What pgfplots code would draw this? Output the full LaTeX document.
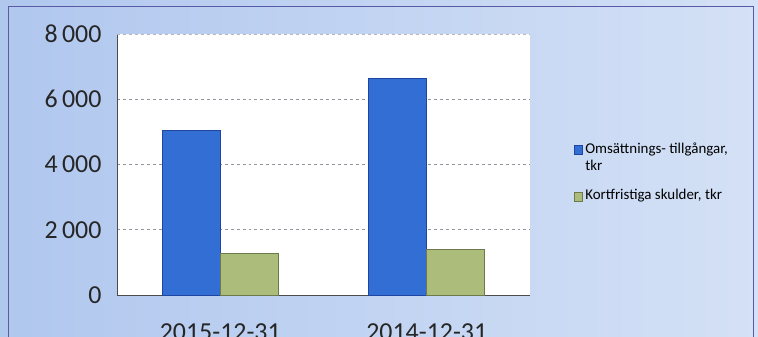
\documentclass[border=0pt]{standalone}
\usepackage{pgfplots}
\pgfplotsset{compat=1.18}
\usepackage{fontspec}
\setmainfont{Carlito}
\definecolor{bgA}{RGB}{176,199,238}
\definecolor{bgB}{RGB}{212,225,246}
\definecolor{barblue}{RGB}{50,110,212}
\definecolor{barblueD}{RGB}{30,70,160}
\definecolor{bargreen}{RGB}{172,188,122}
\definecolor{bargreenD}{RGB}{110,122,75}
\definecolor{gridc}{RGB}{150,150,160}
\pgfplotstableread{
x omsatt kort
0 5030 1260
1 6650 1410
}\datatable
\begin{document}
\begin{tikzpicture}[x=1bp,y=1bp]
\useasboundingbox (-117,-41) rectangle (641,295);
\shade[left color=bgA, right color=bgB] (-117,-41) rectangle (641,295);
\draw[gray!70!blue, line width=0.8bp] (-109,-60) -- (-109,289) -- (636,289) -- (636,-60);
\begin{axis}[
  at={(0,0)}, anchor=south west,
  scale only axis, width=413bp, height=261bp,
  ybar=0pt, bar width=58bp,
  xmin=-0.5, xmax=1.5, ymin=0, ymax=8000,
  xtick=data, xticklabels={2015-12-31,2014-12-31},
  ytick={0,2000,4000,6000,8000},
  /pgf/number format/assume math mode=true,
  /pgf/number format/1000 sep={\,},
  tick style={draw=none},
  ymajorgrids, grid style={gridc, dashed, line width=0.6bp},
  axis background/.style={fill=white},
  axis x line*=bottom, axis y line*=left,
  axis line style={gray!60!black, line width=0.8bp, -},
  ticklabel style={font=\fontsize{26}{30}\selectfont, text=black!85},
  yticklabel style={xshift=-12bp},
  xticklabel style={yshift=-21bp},
  legend style={at={(rel axis cs:1.10,0.60)}, anchor=north west, draw=none, fill=none,
    font=\fontsize{15}{17}\selectfont, cells={anchor=base west, align=left},
    row sep=14bp, /tikz/every even column/.append style={column sep=1bp}},
]
\draw[gridc!70, line width=0.6bp, dashed] (rel axis cs:0,1) -- (rel axis cs:1,1);
\addplot[draw=barblueD, fill=barblue, line width=0.8bp,
  legend image code/.code={\draw[draw=barblueD, fill=barblue, line width=0.8bp] (0bp,16bp) rectangle (8bp,25bp);}] table[x=x,y=omsatt]{\datatable};
\addplot[draw=bargreenD, fill=bargreen, line width=0.8bp,
  legend image code/.code={\draw[draw=bargreenD, fill=bargreen, line width=0.8bp] (0bp,-1bp) rectangle (8bp,8bp);}] table[x=x,y=kort]{\datatable};
\legend{{Omsättnings- tillgångar,\\tkr}, {Kortfristiga skulder, tkr}}
\end{axis}
\end{tikzpicture}
\end{document}
